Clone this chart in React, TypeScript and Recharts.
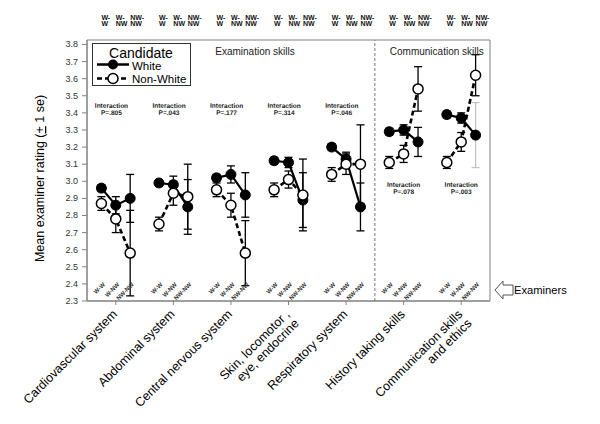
import React from 'react';
import { ComposedChart, Line, XAxis, YAxis, ErrorBar, ReferenceLine, ReferenceArea, Scatter, Legend } from 'recharts';

const categories = [
  'Cardiovascular system',
  'Abdominal system',
  'Central nervous system',
  'Skin, locomotor ,\neye, endocrine',
  'Respiratory system',
  'History taking skills',
  'Communication skills\nand ethics',
];
const pairings = ['W-W', 'W-NW', 'NW-NW'];
const topPairLabels = [['W-', 'W'], ['W-', 'NW'], ['NW-', 'NW']];
const whiteMeans = [
  [2.96, 2.86, 2.90], [2.99, 2.98, 2.85], [3.02, 3.04, 2.92], [3.12, 3.11, 2.89],
  [3.20, 3.13, 2.85], [3.29, 3.30, 3.23], [3.39, 3.37, 3.27],
];
const whiteSe = [
  [0.02, 0.05, 0.14], [0.02, 0.05, 0.16], [0.02, 0.05, 0.13], [0.02, 0.03, 0.16],
  [0.02, 0.04, 0.14], [0.02, 0.03, 0.085], [0.02, 0.03, 0],
];
const whiteSeGrey = [{ category: 6, pair: 2, se: 0.19 }];
const nonWhiteMeans = [
  [2.87, 2.78, 2.58], [2.75, 2.93, 2.91], [2.95, 2.86, 2.58], [2.95, 3.01, 2.92],
  [3.04, 3.10, 3.10], [3.11, 3.16, 3.54], [3.11, 3.23, 3.62],
];
const nonWhiteSe = [
  [0.04, 0.08, 0.25], [0.04, 0.07, 0.19], [0.04, 0.07, 0.19], [0.04, 0.05, 0.21],
  [0.04, 0.06, 0.23], [0.035, 0.05, 0.13], [0.035, 0.055, 0.12],
];
const interactionP = ['.805', '.043', '.177', '.314', '.046', '.078', '.003'];
const sections = ['Examination skills', 'Communication skills'];
const yTicks = [2.3, 2.4, 2.5, 2.6, 2.7, 2.8, 2.9, 3.0, 3.1, 3.2, 3.3, 3.4, 3.5, 3.6, 3.7, 3.8];

const FONT = '"Liberation Sans", Arial, sans-serif';
const GREY = '#808080';

const posOf = (i: number, j: number) => i * 4 + j + 1;
const centerOf = (i: number) => i * 4 + 2;

const rows: any[] = [];
categories.forEach((_, i) => {
  pairings.forEach((p, j) => {
    rows.push({
      x: posOf(i, j),
      white: whiteMeans[i][j],
      whiteSe: whiteSe[i][j],
      nonWhite: nonWhiteMeans[i][j],
      nonWhiteSe: nonWhiteSe[i][j],
      pair: p,
      pairIdx: j,
    });
  });
  if (i < categories.length - 1) rows.push({ x: i * 4 + 4, white: null, nonWhite: null });
});

const pairLabelData = rows.filter((r) => r.pair).map((r) => ({ x: r.x, y: 2.3, pair: r.pair }));
const greyData = whiteSeGrey.map((g) => ({ x: posOf(g.category, g.pair), y: whiteMeans[g.category][g.pair], se: g.se }));
const interactionData = interactionP.map((p, i) => ({
  x: i < 5 ? centerOf(i) - 0.3 : centerOf(i),
  y: i < 5 ? 3.429 : 2.967,
  p,
}));
const sectionData = [
  { x: 11.67, y: 3.74, label: sections[0] },
  { x: 24.3, y: 3.74, label: sections[1] },
];
const categoryTicks = categories.map((_, i) => centerOf(i));
const pairTicks = rows.filter((r) => r.pair).map((r) => r.x);

const CategoryTick = (props: any) => {
  const { x, y, payload } = props;
  const idx = categoryTicks.indexOf(payload.value);
  const lines = (categories[idx] || '').split('\n');
  return (
    <g transform={`translate(${x + 2},${y + 8})`}>
      <text transform="rotate(-45)" textAnchor="end" fontSize={12.5} fill="#000" fontFamily={FONT}>
        {lines.map((l, k) => (
          <tspan key={k} x={0} dy={k === 0 ? 0 : 13}>{l}</tspan>
        ))}
      </text>
    </g>
  );
};

const TopTick = (props: any) => {
  const { x, payload } = props;
  const r = rows.find((rr) => rr.x === payload.value);
  if (!r) return null;
  const [l1, l2] = topPairLabels[r.pairIdx];
  return (
    <text textAnchor="start" fontSize={7} fontWeight="bold" fill="#111" fontFamily={FONT}>
      <tspan x={x} y={12}>{l1}</tspan>
      <tspan x={x} y={18}>{l2}</tspan>
    </text>
  );
};

const YTick = (props: any) => {
  const { x, y, payload } = props;
  return (
    <text x={x} y={y} dy={3} textAnchor="end" fontSize={9} fill="#333" fontFamily={FONT}>
      {Number(payload.value).toFixed(1)}
    </text>
  );
};

const YLabel = () => (
  <text transform="translate(36,170.5) rotate(-90)" textAnchor="middle" fontSize={12.5} fill="#000" fontFamily={FONT}>
    Mean examiner rating (<tspan textDecoration="underline">+</tspan> 1 se)
  </text>
);

const LegendBox = () => (
  <div style={{ width: 99, height: 43, border: '1px solid #333', boxSizing: 'border-box', background: '#fff' }}>
    <svg width={97} height={41} style={{ display: 'block' }}>
      <text x={48} y={14} textAnchor="middle" fontSize={14} fontFamily={FONT} fill="#000">Candidate</text>
      <line x1={4} y1={20.5} x2={36} y2={20.5} stroke="#000" strokeWidth={2.5} />
      <circle cx={20} cy={20.5} r={5} fill="#000" />
      <text x={39} y={26} fontSize={11.5} fontFamily={FONT} fill="#000">White</text>
      <line x1={4} y1={34.5} x2={36} y2={34.5} stroke="#000" strokeWidth={2.5} strokeDasharray="5 3" />
      <circle cx={20} cy={34.5} r={5} fill="#fff" stroke="#000" strokeWidth={1.5} />
      <text x={39} y={38.5} fontSize={11.5} fontFamily={FONT} fill="#000">Non-White</text>
    </svg>
  </div>
);

export default function App() {
  return (
    <div style={{ position: 'relative', width: 584, height: 410, fontFamily: FONT }}>
      <ComposedChart width={584} height={410} data={rows} margin={{ top: 0, right: 102, bottom: 0, left: 0 }}>
        <XAxis
          dataKey="x"
          type="number"
          domain={[0, 28]}
          ticks={categoryTicks}
          interval={0}
          height={117}
          tick={<CategoryTick />}
          tickSize={4}
          axisLine={{ stroke: GREY }}
          tickLine={{ stroke: GREY }}
        />
        <XAxis
          xAxisId="top"
          orientation="top"
          dataKey="x"
          type="number"
          domain={[0, 28]}
          ticks={pairTicks}
          interval={0}
          height={32}
          tick={<TopTick />}
          axisLine={false}
          tickLine={false}
        />
        <YAxis
          type="number"
          domain={[2.3, 3.826]}
          ticks={yTicks}
          interval={0}
          width={79}
          tick={<YTick />}
          tickSize={5}
          tickMargin={4}
          axisLine={{ stroke: GREY }}
          tickLine={{ stroke: GREY }}
          label={<YLabel />}
        />
        <ReferenceArea x1={0} x2={28} y1={2.3} y2={3.826} fill="none" stroke={GREY} strokeWidth={1} />
        <ReferenceLine x={20} stroke="#777" strokeDasharray="3 2" />
        <Legend
          layout="vertical"
          align="center"
          verticalAlign="middle"
          content={() => <LegendBox />}
          wrapperStyle={{ left: 84, top: 35, width: 99, height: 43 }}
        />
        <Scatter data={greyData} dataKey="y" isAnimationActive={false} legendType="none" shape={() => <g />}>
          <ErrorBar dataKey="se" direction="y" width={4} stroke="#c0c0c0" strokeWidth={1.2} />
        </Scatter>
        <Line
          dataKey="white"
          stroke="#000"
          strokeWidth={2.2}
          isAnimationActive={false}
          connectNulls={false}
          dot={{ r: 5, fill: '#000', stroke: '#000', strokeWidth: 1, strokeDasharray: 'none' }}
          activeDot={false}
        >
          <ErrorBar dataKey="whiteSe" direction="y" width={4} stroke="#000" strokeWidth={1.3} />
        </Line>
        <Line
          dataKey="nonWhite"
          stroke="#000"
          strokeWidth={2.6}
          strokeDasharray="5 3"
          isAnimationActive={false}
          connectNulls={false}
          dot={{ r: 5, fill: '#fff', stroke: '#000', strokeWidth: 1.5, strokeDasharray: 'none' }}
          activeDot={false}
        >
          <ErrorBar dataKey="nonWhiteSe" direction="y" width={4} stroke="#000" strokeWidth={1.3} />
        </Line>
        <Scatter
          data={pairLabelData}
          dataKey="y"
          isAnimationActive={false}
          legendType="none"
          shape={(p: any) => (
            <text
              transform={`translate(${p.cx + 4},${p.cy - 16}) rotate(-45)`}
              textAnchor="end"
              fontSize={6}
              fontWeight="bold"
              fill="#333"
              fontFamily={FONT}
            >
              {p.payload.pair}
            </text>
          )}
        />
        <Scatter
          data={interactionData}
          dataKey="y"
          isAnimationActive={false}
          legendType="none"
          shape={(p: any) => (
            <text
              transform={`rotate(0.2 ${p.cx} ${p.cy})`}
              textAnchor="middle"
              fontSize={6.5}
              fontWeight="bold"
              fill="#222"
              fontFamily={FONT}
            >
              <tspan x={p.cx} y={p.cy}>Interaction</tspan>
              <tspan x={p.cx} y={p.cy + 7}>{`P=${p.payload.p}`}</tspan>
            </text>
          )}
        />
        <Scatter
          data={sectionData}
          dataKey="y"
          isAnimationActive={false}
          legendType="none"
          shape={(p: any) => (
            <text x={p.cx} y={p.cy} textAnchor="middle" fontSize={10} fill="#222" fontFamily={FONT}>
              {p.payload.label}
            </text>
          )}
        />
      </ComposedChart>
      <svg width={100} height={30} style={{ position: 'absolute', left: 484, top: 268 }}>
        <path d="M3,14 L11,5 L11,9 L21,9 L21,19 L11,19 L11,23 Z" fill="#fff" stroke="#555" strokeWidth={1} />
        <text x={22} y={18} fontSize={11.2} fill="#000" fontFamily={FONT}>Examiners</text>
      </svg>
    </div>
  );
}
